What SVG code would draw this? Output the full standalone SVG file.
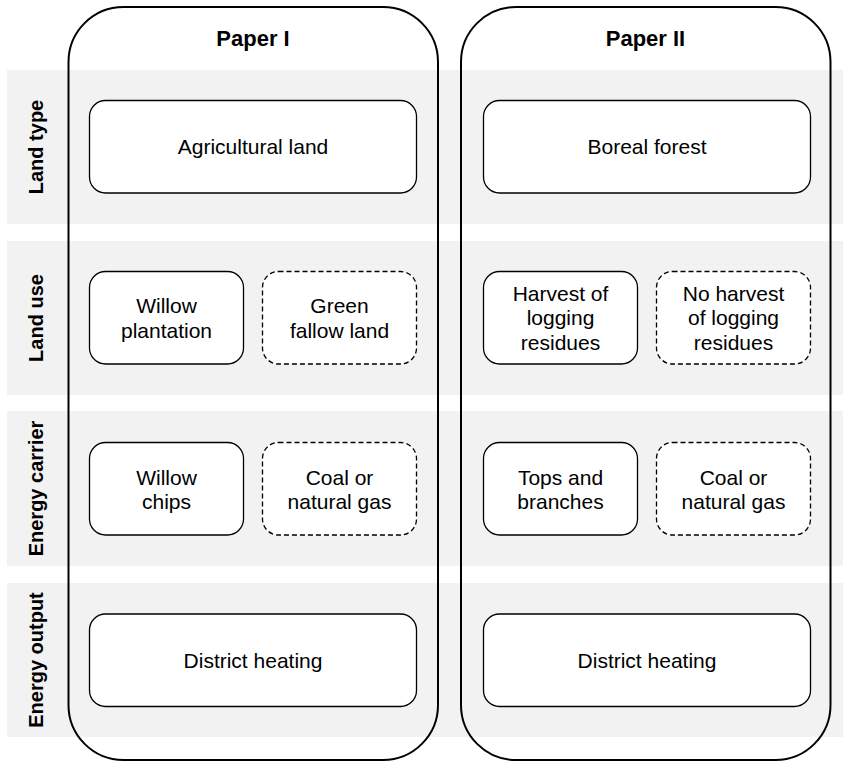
<svg xmlns="http://www.w3.org/2000/svg" width="843" height="762" viewBox="0 0 843 762">
<style>
.band{fill:#f2f2f2;stroke:none}
.paper{fill:none;stroke:#000;stroke-width:2}
.box{fill:#fff;stroke:#000;stroke-width:1.3}
.dash{fill:#fff;stroke:#000;stroke-width:1.3;stroke-dasharray:5 3}
.t{font-family:"Liberation Sans",Arial,sans-serif;font-size:21px;fill:#000;text-anchor:middle}
.h{font-family:"Liberation Sans",Arial,sans-serif;font-size:22px;font-weight:bold;fill:#000;text-anchor:middle}
.r{font-family:"Liberation Sans",Arial,sans-serif;font-size:20px;font-weight:bold;fill:#000;text-anchor:middle}
</style>
<rect width="843" height="762" fill="#fff"/>
<g id="bands">
<rect class="band" x="7" y="70" width="836" height="154"/>
<rect class="band" x="7" y="241" width="836" height="154"/>
<rect class="band" x="7" y="411" width="836" height="155"/>
<rect class="band" x="7" y="583" width="836" height="154"/>
</g>
<g id="row-labels">
<text class="r" transform="translate(42.5,147) rotate(-90)">Land type</text>
<text class="r" transform="translate(42.5,318) rotate(-90)">Land use</text>
<text class="r" transform="translate(42.5,488.5) rotate(-90)">Energy carrier</text>
<text class="r" transform="translate(42.5,660) rotate(-90)">Energy output</text>
</g>
<g id="paper1">
<rect class="paper" x="68.5" y="7" width="369.5" height="753" rx="55" ry="55"/>
<text class="h" x="253" y="46">Paper I</text>
</g>
<g id="paper2">
<rect class="paper" x="461" y="7" width="369.5" height="753" rx="55" ry="55"/>
<text class="h" x="645.5" y="46">Paper II</text>
</g>
<g id="agricultural-land">
<rect class="box" x="89.5" y="100.5" width="327" height="92.5" rx="16"/>
<text class="t" x="253" y="154">Agricultural land</text>
</g>
<g id="boreal-forest">
<rect class="box" x="483.5" y="100.5" width="327" height="92.5" rx="16"/>
<text class="t" x="647" y="154">Boreal forest</text>
</g>
<g id="willow-plantation">
<rect class="box" x="89.5" y="271.5" width="154" height="92.5" rx="16"/>
<text class="t" x="166.5" y="313">Willow</text>
<text class="t" x="166.5" y="337.5">plantation</text>
</g>
<g id="green-fallow-land">
<rect class="dash" x="262.5" y="271.5" width="154" height="92.5" rx="16"/>
<text class="t" x="339.5" y="313">Green</text>
<text class="t" x="339.5" y="337.5">fallow land</text>
</g>
<g id="harvest">
<rect class="box" x="483.5" y="271.5" width="154" height="92.5" rx="16"/>
<text class="t" x="560.5" y="300.5">Harvest of</text>
<text class="t" x="560.5" y="325">logging</text>
<text class="t" x="560.5" y="349.5">residues</text>
</g>
<g id="no-harvest">
<rect class="dash" x="656.5" y="271.5" width="154" height="92.5" rx="16"/>
<text class="t" x="733.5" y="300.5">No harvest</text>
<text class="t" x="733.5" y="325">of logging</text>
<text class="t" x="733.5" y="349.5">residues</text>
</g>
<g id="willow-chips">
<rect class="box" x="89.5" y="442.5" width="154" height="92.5" rx="16"/>
<text class="t" x="166.5" y="484.5">Willow</text>
<text class="t" x="166.5" y="509">chips</text>
</g>
<g id="coal-gas-1">
<rect class="dash" x="262.5" y="442.5" width="154" height="92.5" rx="16"/>
<text class="t" x="339.5" y="484.5">Coal or</text>
<text class="t" x="339.5" y="509">natural gas</text>
</g>
<g id="tops-branches">
<rect class="box" x="483.5" y="442.5" width="154" height="92.5" rx="16"/>
<text class="t" x="560.5" y="484.5">Tops and</text>
<text class="t" x="560.5" y="509">branches</text>
</g>
<g id="coal-gas-2">
<rect class="dash" x="656.5" y="442.5" width="154" height="92.5" rx="16"/>
<text class="t" x="733.5" y="484.5">Coal or</text>
<text class="t" x="733.5" y="509">natural gas</text>
</g>
<g id="district-heating-1">
<rect class="box" x="89.5" y="614" width="327" height="92.5" rx="16"/>
<text class="t" x="253" y="668">District heating</text>
</g>
<g id="district-heating-2">
<rect class="box" x="483.5" y="614" width="327" height="92.5" rx="16"/>
<text class="t" x="647" y="668">District heating</text>
</g>
<g id="connectors"></g>
</svg>
